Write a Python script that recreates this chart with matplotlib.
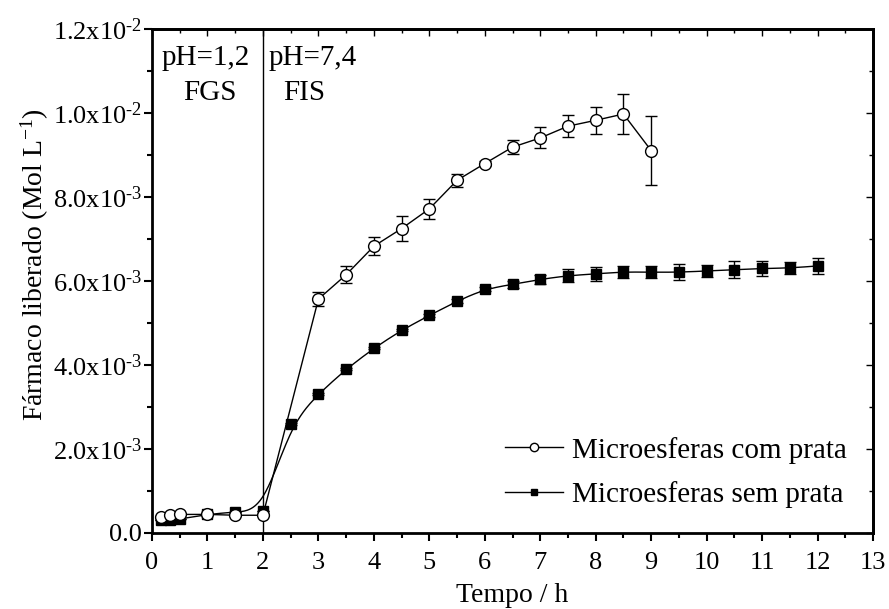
import numpy as np
import matplotlib
matplotlib.use("Agg")
import matplotlib.pyplot as plt
from matplotlib.ticker import MultipleLocator, FixedLocator

plt.rcParams["font.family"] = ["Liberation Serif", "DejaVu Serif"]
plt.rcParams["mathtext.fontset"] = "custom"
plt.rcParams["mathtext.rm"] = "Liberation Serif"
plt.rcParams["mathtext.it"] = "Liberation Serif:italic"
plt.rcParams["mathtext.bf"] = "Liberation Serif:bold"

# microesferas com prata (mol/L, x1e-3)
t_com = [0.17, 0.33, 0.5, 1.0, 1.5, 2.0, 3.0, 3.5, 4.0, 4.5, 5.0, 5.5, 6.0, 6.5, 7.0, 7.5, 8.0, 8.5, 9.0]
c_com = [0.37, 0.42, 0.44, 0.44, 0.42, 0.42, 5.57, 6.15, 6.83, 7.25, 7.72, 8.40, 8.80, 9.19, 9.41, 9.69, 9.83, 9.98, 9.11]
e_com = [0.0, 0.0, 0.0, 0.0, 0.0, 0.0, 0.17, 0.20, 0.22, 0.29, 0.24, 0.15, 0.05, 0.16, 0.25, 0.26, 0.32, 0.47, 0.83]

# microesferas sem prata
t_sem = [0.17, 0.33, 0.5, 1.0, 1.5, 2.0, 2.5, 3.0, 3.5, 4.0, 4.5, 5.0, 5.5, 6.0, 6.5, 7.0, 7.5, 8.0, 8.5, 9.0, 9.5, 10.0, 10.5, 11.0, 11.5, 12.0]
c_sem = [0.30, 0.30, 0.33, 0.44, 0.50, 0.53, 2.59, 3.31, 3.90, 4.40, 4.83, 5.18, 5.52, 5.81, 5.92, 6.04, 6.13, 6.17, 6.22, 6.21, 6.21, 6.24, 6.27, 6.30, 6.31, 6.36]
e_sem = [0.0, 0.0, 0.0, 0.0, 0.0, 0.0, 0.03, 0.03, 0.03, 0.03, 0.03, 0.03, 0.05, 0.05, 0.08, 0.11, 0.16, 0.17, 0.15, 0.14, 0.19, 0.14, 0.20, 0.17, 0.14, 0.19]

y_ticks = [0.0, 2e-3, 4e-3, 6e-3, 8e-3, 1e-2, 1.2e-2]
y_labels = ["0.0", r"2.0x10$^{\text{-3}}$", r"4.0x10$^{\text{-3}}$", r"6.0x10$^{\text{-3}}$",
            r"8.0x10$^{\text{-3}}$", r"1.0x10$^{\text{-2}}$", r"1.2x10$^{\text{-2}}$"]


def bspline(xs, ys, n=30):
    # uniform cubic B-spline, ends repeated so the curve starts/ends on the data
    p = np.column_stack([xs, ys])
    p = np.vstack([p[0], p[0], p, p[-1], p[-1]])
    t = np.linspace(0, 1, n, endpoint=False)[:, None]
    b0 = (1 - t) ** 3 / 6
    b1 = (3 * t**3 - 6 * t**2 + 4) / 6
    b2 = (-3 * t**3 + 3 * t**2 + 3 * t + 1) / 6
    b3 = t**3 / 6
    segs = [b0 * p[i] + b1 * p[i + 1] + b2 * p[i + 2] + b3 * p[i + 3] for i in range(len(p) - 3)]
    out = np.vstack(segs + [p[-1:]])
    return out[:, 0], out[:, 1]


fig = plt.figure(figsize=(8.89, 6.09), dpi=100)
ax = fig.add_axes([0.171, 0.125, 0.811, 0.827])

tc = np.array(t_com)
cc = np.array(c_com) * 1e-3
ec = np.array(e_com) * 1e-3
ts = np.array(t_sem)
cs = np.array(c_sem) * 1e-3
es = np.array(e_sem) * 1e-3

bx, by = bspline(ts, cs)
ax.plot(bx, by, color="black", lw=1.0, zorder=2)
ax.errorbar(ts, cs, yerr=es, fmt="none", ecolor="black", elinewidth=1.0, capsize=4, capthick=1.0, zorder=3)
ax.plot(ts, cs, ls="none", marker="s", ms=7.5, mfc="black", mec="black", zorder=4)

ax.plot(tc, cc, color="black", lw=1.0, zorder=5)
ax.errorbar(tc, cc, yerr=ec, fmt="none", ecolor="black", elinewidth=1.0, capsize=4, capthick=1.0, zorder=6)
ax.plot(tc, cc, ls="none", marker="o", ms=8.5, mfc="white", mec="black", mew=1.0, zorder=7)

ax.axvline(2, color="black", lw=1.0, zorder=1)
ax.text(0.97, 0.01131, "pH=1,2", ha="center", va="center", fontsize=21)
ax.text(1.05, 0.01048, "FGS", ha="center", va="center", fontsize=21)
ax.text(2.1, 0.01131, "pH=7,4", ha="left", va="center", fontsize=21)
ax.text(2.74, 0.01048, "FIS", ha="center", va="center", fontsize=21)

ax.set_xlim(0, 13)
ax.set_ylim(0, 0.012)
ax.xaxis.set_major_locator(MultipleLocator(1))
ax.xaxis.set_minor_locator(MultipleLocator(0.5))
ax.yaxis.set_major_locator(FixedLocator(y_ticks))
ax.yaxis.set_minor_locator(MultipleLocator(1e-3))
ax.set_yticklabels(y_labels)
ax.tick_params(axis="both", which="major", direction="out", length=6, width=1.5, labelsize=19)
ax.tick_params(axis="both", which="minor", direction="out", length=3.5, width=1.5)
ax.tick_params(axis="y", which="major", pad=1)
ax.tick_params(axis="x", which="major", pad=8)
for side in ["top", "right"]:
    sec = ax.secondary_xaxis("top") if side == "top" else ax.secondary_yaxis("right")
    if side == "top":
        sec.xaxis.set_major_locator(MultipleLocator(1))
        sec.xaxis.set_minor_locator(MultipleLocator(0.5))
    else:
        sec.yaxis.set_major_locator(FixedLocator(y_ticks))
        sec.yaxis.set_minor_locator(MultipleLocator(1e-3))
    sec.tick_params(which="major", direction="in", length=5, width=1.0, labelleft=False,
                    labelright=False, labeltop=False, labelbottom=False)
    sec.tick_params(which="minor", direction="in", length=3, width=1.0)
    sec.spines[side].set_linewidth(2.0)
for s in ax.spines.values():
    s.set_linewidth(2.0)

ax.set_xlabel("Tempo / h", fontsize=20, labelpad=6)
ax.set_ylabel("Fármaco liberado (Mol L$^{-1}$)", fontsize=20)
ax.yaxis.set_label_coords(-0.14, 0.532)

h_com, = ax.plot([], [], color="black", lw=1.0, marker="o", ms=6, mfc="white", mec="black")
h_sem, = ax.plot([], [], color="black", lw=1.0, marker="s", ms=5, mfc="black", mec="black")
ax.legend([h_com, h_sem], ["Microesferas com prata", "Microesferas sem prata"],
          loc="lower right", bbox_to_anchor=(1.0, -0.003), frameon=False, fontsize=21,
          handlelength=2.0, handletextpad=0.3, labelspacing=0.6)

fig.savefig("out.png", dpi=100)
